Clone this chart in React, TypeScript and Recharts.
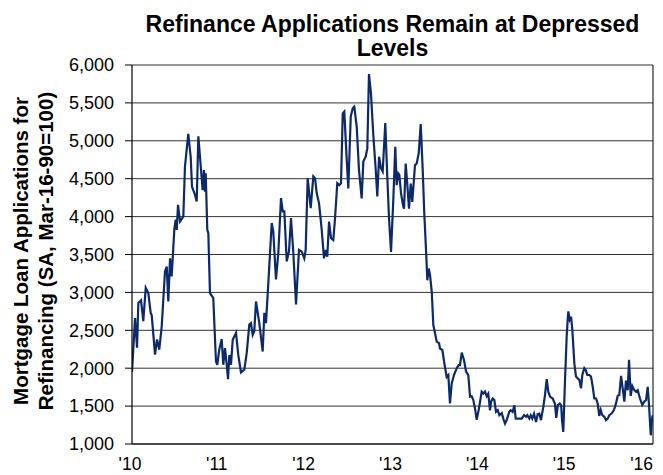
import React from "react";
import { LineChart, Line, XAxis, YAxis, CartesianGrid, ReferenceLine } from "recharts";

const dates: number[] = [
  2010.0, 2010.035, 2010.058, 2010.073, 2010.104, 2010.13, 2010.158, 2010.188, 2010.215, 2010.227,
  2010.265, 2010.288, 2010.314, 2010.342, 2010.38, 2010.4, 2010.418, 2010.438, 2010.457, 2010.487,
  2010.503, 2010.515, 2010.53, 2010.553, 2010.591, 2010.61, 2010.648, 2010.676, 2010.691, 2010.726,
  2010.745, 2010.764, 2010.795, 2010.814, 2010.829, 2010.841, 2010.849, 2010.867, 2010.879, 2010.898,
  2010.936, 2010.967, 2010.982, 2011.005, 2011.033, 2011.051, 2011.071, 2011.091, 2011.106, 2011.121,
  2011.14, 2011.16, 2011.198, 2011.224, 2011.255, 2011.293, 2011.321, 2011.351, 2011.37, 2011.39,
  2011.408, 2011.428, 2011.466, 2011.505, 2011.524, 2011.543, 2011.57, 2011.609, 2011.627, 2011.658,
  2011.685, 2011.716, 2011.736, 2011.754, 2011.782, 2011.808, 2011.831, 2011.858, 2011.889, 2011.923,
  2011.954, 2011.984, 2012.0, 2012.023, 2012.058, 2012.088, 2012.108, 2012.127, 2012.154, 2012.185,
  2012.211, 2012.231, 2012.249, 2012.269, 2012.292, 2012.318, 2012.338, 2012.364, 2012.387, 2012.407,
  2012.427, 2012.445, 2012.473, 2012.491, 2012.519, 2012.542, 2012.56, 2012.588, 2012.614, 2012.645,
  2012.664, 2012.691, 2012.71, 2012.729, 2012.752, 2012.779, 2012.807, 2012.825, 2012.845, 2012.868,
  2012.887, 2012.917, 2012.94, 2012.96, 2012.983, 2013.009, 2013.032, 2013.048, 2013.067, 2013.079,
  2013.098, 2013.124, 2013.133, 2013.152, 2013.171, 2013.19, 2013.21, 2013.228, 2013.259, 2013.279,
  2013.302, 2013.325, 2013.348, 2013.366, 2013.386, 2013.401, 2013.417, 2013.432, 2013.452, 2013.47,
  2013.49, 2013.509, 2013.536, 2013.547, 2013.574, 2013.597, 2013.624, 2013.643, 2013.662, 2013.682,
  2013.708, 2013.74, 2013.762, 2013.777, 2013.797, 2013.824, 2013.847, 2013.873, 2013.893, 2013.912,
  2013.931, 2013.95, 2013.97, 2013.996, 2014.027, 2014.046, 2014.065, 2014.085, 2014.103, 2014.123,
  2014.134, 2014.154, 2014.173, 2014.192, 2014.212, 2014.23, 2014.258, 2014.276, 2014.296, 2014.315,
  2014.345, 2014.361, 2014.384, 2014.403, 2014.419, 2014.449, 2014.488, 2014.515, 2014.538, 2014.553,
  2014.576, 2014.592, 2014.61, 2014.63, 2014.653, 2014.672, 2014.691, 2014.71, 2014.737, 2014.756,
  2014.776, 2014.794, 2014.814, 2014.845, 2014.871, 2014.886, 2014.904, 2014.926, 2014.943, 2014.952,
  2014.967, 2014.987, 2015.006, 2015.018, 2015.025, 2015.041, 2015.056, 2015.071, 2015.094, 2015.113,
  2015.133, 2015.152, 2015.171, 2015.186, 2015.209, 2015.225, 2015.244, 2015.267, 2015.286, 2015.306,
  2015.324, 2015.344, 2015.363, 2015.381, 2015.398, 2015.416, 2015.439, 2015.459, 2015.478, 2015.497,
  2015.525, 2015.551, 2015.574, 2015.594, 2015.612, 2015.632, 2015.651, 2015.67, 2015.689, 2015.709,
  2015.724, 2015.743, 2015.762, 2015.785, 2015.804, 2015.824, 2015.85, 2015.877, 2015.9, 2015.92,
  2015.939, 2015.954, 2015.974, 2015.992, 2016.0,
];

// Refinance index values (SA, Mar-16-90=100)
const refiIndex: number[] = [
  1950, 2660, 2270, 2860, 2895, 2620, 3060, 2990, 2730, 2700,
  2180, 2380, 2245, 2550, 3275, 3340, 2880, 3450, 3210, 3825,
  3960, 3825, 4155, 3935, 4000, 4660, 5090, 4790, 4395, 4285,
  4200, 5060, 4615, 4350, 4615, 4330, 4570, 3825, 3780, 2990,
  2925, 2090, 2045, 2245, 2385, 2045, 2265, 2045, 1855, 2175,
  2045, 2375, 2465, 2175, 1945, 1980, 2200, 2575, 2595, 2440,
  2485, 2880, 2595, 2220, 2730, 2595, 3125, 3915, 3805, 3170,
  3520, 4245, 4070, 4070, 3410, 3540, 3980, 3520, 2840, 3560,
  3540, 3450, 3560, 4505, 4110, 4530, 4505, 4310, 4175, 3825,
  3450, 3560, 3470, 3935, 3715, 3690, 3975, 4440, 4415, 4440,
  5360, 5385, 4745, 4370, 5320, 5430, 5450, 5185, 4615, 4240,
  4725, 4790, 4900, 5880, 5625, 5075, 4615, 4265, 4790, 4635,
  4595, 5235, 4525, 3975, 3535, 4215, 4920, 4415, 4570, 4550,
  4305, 4130, 4105, 4700, 4415, 4105, 4435, 4195, 4680, 4700,
  4835, 5220, 4615, 4040, 3560, 3160, 3315, 3230, 3010, 2570,
  2460, 2350, 2330, 2260, 2240, 2065, 1885, 1910, 1535, 1800,
  1910, 2000, 2040, 2040, 2205, 2105, 1955, 1910, 1625, 1630,
  1580, 1470, 1320, 1470, 1690, 1665, 1690, 1630, 1665, 1445,
  1555, 1600, 1580, 1425, 1445, 1380, 1410, 1335, 1270, 1315,
  1425, 1445, 1425, 1510, 1335, 1335, 1335, 1380, 1360, 1380,
  1335, 1380, 1335, 1400, 1290, 1395, 1400, 1315, 1490, 1645,
  1855, 1690, 1625, 1600, 1530, 1345, 1515, 1535, 1510, 1315,
  1160, 1850, 2420, 2650, 2750, 2640, 2680, 2505, 2065, 1890,
  1865, 1845, 1735, 1910, 2000, 1975, 1910, 1910, 1890, 1755,
  1600, 1600, 1535, 1370, 1450, 1380, 1360, 1315, 1335, 1380,
  1405, 1450, 1535, 1635, 1645, 1900, 1735, 1560, 1835, 1710,
  2110, 1635, 1765, 1710, 1690, 1710, 1600, 1515, 1560, 1580,
  1755, 1515, 1115, 1360, 1380,
];

const yTicks: number[] = [1000, 1500, 2000, 2500, 3000, 3500, 4000, 4500, 5000, 5500, 6000];
const xTicks: number[] = [2010, 2011, 2012, 2013, 2014, 2015, 2016];
const xTickLabels: string[] = ["'10", "'11", "'12", "'13", "'14", "'15", "'16"];

const titleLines: string[] = ["Refinance Applications Remain at Depressed", "Levels"];
const yLabelLines: string[] = ["Mortgage Loan Applications for", "Refinancing (SA, Mar-16-90=100)"];

const data = dates.map((d, i) => ({ date: d, value: refiIndex[i] }));

const FONT = "'Liberation Sans', Arial, Helvetica, sans-serif";
const W = 655;
const H = 467;

const XTick = (props: any) => {
  const { x, y, payload } = props;
  const idx = xTicks.indexOf(payload.value);
  const label = xTickLabels[idx] ?? "";
  const isLast = idx === xTicks.length - 1;
  return (
    <text
      x={isLast ? x : x - 2}
      y={y}
      dy="0.71em"
      textAnchor={isLast ? "end" : "middle"}
      fill="#000000"
      fontSize={17.5}
      fontFamily={FONT}
    >
      {label}
    </text>
  );
};

export default function App() {
  return (
    <div style={{ position: "relative", width: W, height: H, fontFamily: FONT }}>
      <style>{`html { overflow: hidden; }`}</style>
      <LineChart
        width={W}
        height={H}
        data={data}
        margin={{ top: 57, right: 10, bottom: 0, left: 0 }}
      >
        <CartesianGrid vertical={false} stroke="#333333" strokeWidth={1} />
        <XAxis
          dataKey="date"
          type="number"
          domain={[2010, 2016]}
          ticks={xTicks}
          height={31}
          tickLine={false}
          tickSize={6}
          tickMargin={8}
          axisLine={{ stroke: "#000000", strokeWidth: 1.2 }}
          tick={<XTick />}
          interval={0}
          allowDataOverflow
        />
        <YAxis
          type="number"
          domain={[1000, 6000]}
          ticks={yTicks}
          width={124}
          tickSize={7}
          tickMargin={11}
          tickLine={{ stroke: "#000000" }}
          axisLine={{ stroke: "#000000", strokeWidth: 1.2 }}
          tick={{ fill: "#000000", fontSize: 18, fontFamily: FONT }}
          tickFormatter={(v: number) => v.toLocaleString("en-US")}
          interval={0}
        />
        <ReferenceLine x={2016} stroke="#000000" strokeWidth={1} />
        <Line
          type="linear"
          dataKey="value"
          stroke="#0c2a6a"
          strokeWidth={2.2}
          dot={false}
          activeDot={false}
          isAnimationActive={false}
        />
      </LineChart>
      <svg
        width={W}
        height={H}
        style={{ position: "absolute", left: 0, top: 0, pointerEvents: "none", overflow: "visible" }}
      >
        <text
          x={384.5}
          y={24}
          textAnchor="middle"
          fontFamily={FONT}
          fontWeight="bold"
          fontSize={23}
          fill="#000000"
        >
          {titleLines[0]}
        </text>
        <text
          x={384.5}
          y={47.5}
          textAnchor="middle"
          fontFamily={FONT}
          fontWeight="bold"
          fontSize={23}
          fill="#000000"
        >
          {titleLines[1]}
        </text>
        <text
          x={20}
          y={243}
          transform="rotate(-90, 20, 243)"
          textAnchor="middle"
          fontFamily={FONT}
          fontWeight="bold"
          fontSize={20.5}
          fill="#000000"
        >
          {yLabelLines[0]}
        </text>
        <text
          x={45}
          y={243}
          transform="rotate(-90, 45, 243)"
          textAnchor="middle"
          fontFamily={FONT}
          fontWeight="bold"
          fontSize={20.5}
          fill="#000000"
        >
          {yLabelLines[1]}
        </text>
      </svg>
    </div>
  );
}
